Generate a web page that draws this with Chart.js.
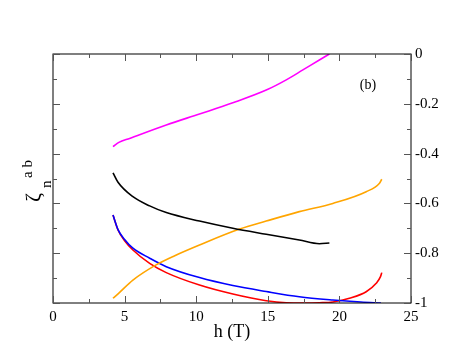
<!DOCTYPE html>
<html lang="en">
<head>
<meta charset="UTF-8">
<title>zeta ab vs h</title>
<script src="https://cdn.jsdelivr.net/npm/chart.js"></script>
<style>
  html, body { margin: 0; padding: 0; background: #fff; }
  .wrap { width: 463px; height: 358px; }
</style>
</head>
<body>
<div class="wrap"><canvas id="chart" width="463" height="358"></canvas></div>
<script>
// values (h in tesla, zeta)
const hMagenta = [4.19, 4.6, 5.35, 7.91, 10.23, 12.56, 14.89, 16.29, 17.45, 18.6, 19.3];
const zMagenta = [-0.372, -0.355, -0.339, -0.285, -0.241, -0.196, -0.145, -0.104, -0.064, -0.024, 0];

const hBlack = [4.19, 4.54, 5.58, 6.75, 7.91, 10.23, 12.56, 14.89, 17.2, 18.6, 19.3];
const zBlack = [-0.477, -0.515, -0.573, -0.610, -0.637, -0.671, -0.700, -0.724, -0.747, -0.762, -0.759];

const hOrange = [4.19, 4.6, 5.58, 7.2, 8.5, 10.23, 13.03, 14.89, 17.2, 19.54, 21.87, 22.8, 22.96];
const zOrange = [-0.981, -0.96, -0.908, -0.847, -0.81, -0.767, -0.703, -0.671, -0.633, -0.600, -0.553, -0.519, -0.503];

const hRed = [4.19, 4.54, 5.0, 5.58, 6.75, 7.91, 10.23, 12.56, 14.89, 16.29, 17.5, 18.6, 19.54, 20.7, 21.87, 22.57, 22.87, 22.96];
const zRed = [-0.647, -0.707, -0.75, -0.787, -0.841, -0.878, -0.928, -0.964, -0.991, -0.999, -1.0, -0.999, -0.996, -0.981, -0.955, -0.921, -0.894, -0.878];

const hBlue = [4.19, 4.54, 5.0, 5.58, 6.75, 7.91, 10.23, 12.56, 14.89, 17.2, 19.54, 21.5, 22.9];
const zBlue = [-0.647, -0.705, -0.745, -0.780, -0.820, -0.854, -0.898, -0.930, -0.954, -0.975, -0.988, -0.996, -1.0];

const xTicks = [0, 5, 10, 15, 20, 25];
const yTicks = [0, -0.2, -0.4, -0.6, -0.8, -1];

const pts = (xs, ys) => xs.map((x, i) => ({ x, y: ys[i] }));
const serif = "'Liberation Serif', 'DejaVu Serif', serif";

const line = (data, color) => ({
  data,
  borderColor: color,
  borderWidth: 1.6,
  pointRadius: 0,
  showLine: true,
  fill: false,
  cubicInterpolationMode: 'monotone',
  yAxisID: 'y'
});

// box, inward ticks, y label and panel tag
const decor = {
  id: 'decor',
  afterDraw(chart) {
    const { ctx, chartArea: a, scales } = chart;
    const xs = scales.x, ys = scales.y;
    ctx.save();
    ctx.strokeStyle = '#000';
    ctx.lineWidth = 1;
    ctx.strokeRect(a.left, a.top, a.right - a.left, a.bottom - a.top);
    ctx.strokeStyle = '#555';
    for (let v = 0; v <= 25; v += 2.5) {
      const p = Math.round(xs.getPixelForValue(v)) + 0.5;
      const len = (v % 5 === 0) ? 7 : 4;
      ctx.beginPath();
      ctx.moveTo(p, a.bottom); ctx.lineTo(p, a.bottom - len);
      ctx.moveTo(p, a.top); ctx.lineTo(p, a.top + len);
      ctx.stroke();
    }
    for (let k = 0; k <= 10; k++) {
      const p = Math.round(ys.getPixelForValue(-k / 10)) + 0.5;
      const len = (k % 2 === 0) ? 7 : 4;
      ctx.beginPath();
      ctx.moveTo(a.left, p); ctx.lineTo(a.left + len, p);
      ctx.moveTo(a.right, p); ctx.lineTo(a.right - len, p);
      ctx.stroke();
    }
    ctx.fillStyle = '#000';
    ctx.font = '14px ' + serif;
    ctx.textAlign = 'center';
    ctx.textBaseline = 'middle';
    ctx.fillText('(b)', 368, 85);

    ctx.rotate(-Math.PI / 2);
    ctx.textAlign = 'left';
    ctx.textBaseline = 'alphabetic';
    ctx.font = '22px ' + serif;
    ctx.fillText('ζ', -202, 40);
    ctx.font = '15px ' + serif;
    ctx.fillText('n', -188, 51);
    ctx.fillText('a b', -178, 32);
    ctx.restore();
  }
};

new Chart(document.getElementById('chart'), {
  type: 'scatter',
  data: {
    datasets: [
      line(pts(hMagenta, zMagenta), '#ff00ff'),
      line(pts(hBlack, zBlack), '#000000'),
      line(pts(hOrange, zOrange), '#ffa500'),
      line(pts(hBlue, zBlue), '#0000ff'),
      line(pts(hRed, zRed), '#ff0000')
    ]
  },
  options: {
    responsive: false,
    animation: false,
    layout: { padding: { top: 54, bottom: 15 } },
    plugins: { legend: { display: false }, tooltip: { enabled: false } },
    scales: {
      x: {
        type: 'linear', min: 0, max: 25,
        afterBuildTicks: s => { s.ticks = xTicks.map(v => ({ value: v })); },
        afterFit: s => { s.height = 40; },
        grid: { display: false, drawTicks: false },
        border: { display: false },
        ticks: { padding: 5, color: '#000', font: { family: serif, size: 15 }, maxRotation: 0 },
        title: { display: true, text: 'h (T)', color: '#000', padding: 0, font: { family: serif, size: 18 } }
      },
      y: {
        type: 'linear', position: 'left', min: -1, max: 0,
        afterFit: s => { s.width = 53; },
        grid: { display: false, drawTicks: false },
        border: { display: false },
        ticks: { display: false }
      },
      y2: {
        type: 'linear', position: 'right', min: -1, max: 0,
        afterBuildTicks: s => { s.ticks = yTicks.map(v => ({ value: v })); },
        afterFit: s => { s.width = 52; },
        grid: { display: false, drawTicks: false },
        border: { display: false },
        ticks: { padding: 4, color: '#000', font: { family: serif, size: 15 }, callback: v => String(v) }
      }
    }
  },
  plugins: [decor]
});
</script>
</body>
</html>
